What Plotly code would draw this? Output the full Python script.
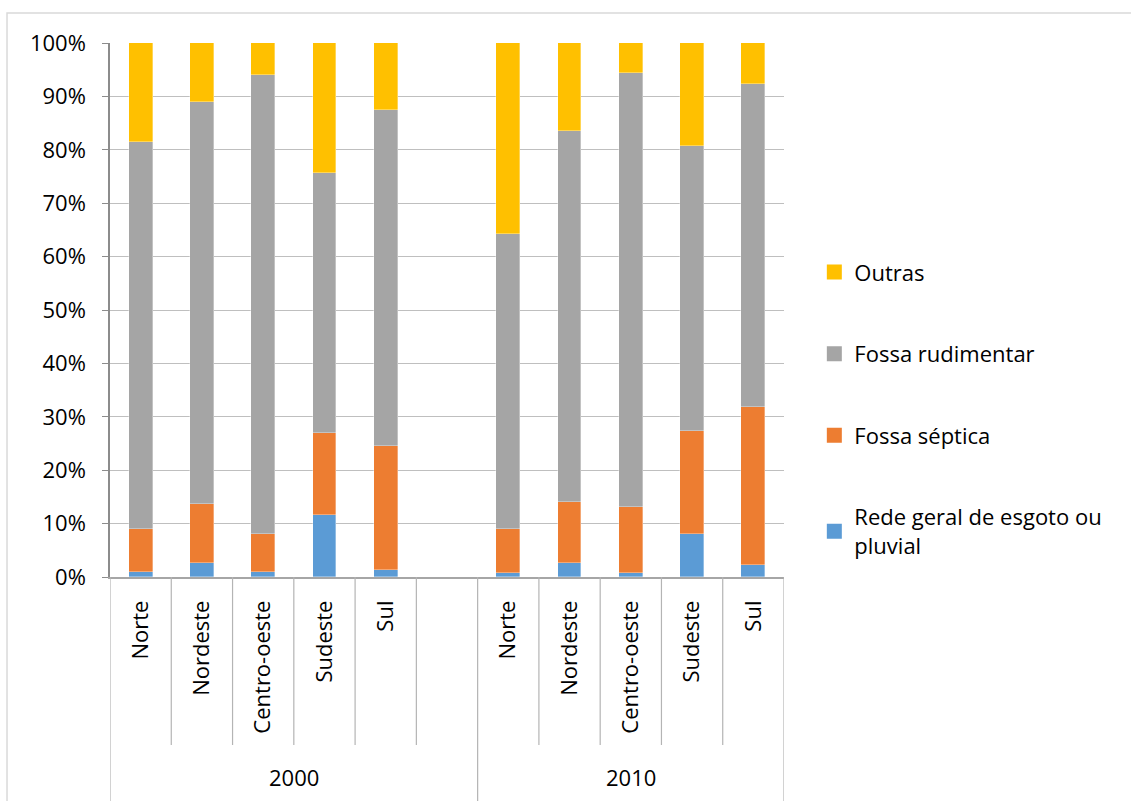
import plotly.graph_objects as go

# Regions and census years (share of households by sewage destination)
regions = ["Norte", "Nordeste", "Centro-oeste", "Sudeste", "Sul"]
years = ["2000", "2010"]

# Percent share per region, 2000
rede_2000 = [1.0, 2.6, 1.0, 11.7, 1.4]
septica_2000 = [7.9, 11.0, 7.1, 15.2, 23.1]
rudimentar_2000 = [72.6, 75.4, 86.0, 48.8, 62.9]
outras_2000 = [18.5, 11.0, 5.9, 24.3, 12.6]

# Percent share per region, 2010
rede_2010 = [0.7, 2.6, 0.7, 8.1, 2.3]
septica_2010 = [8.3, 11.5, 12.5, 19.3, 29.6]
rudimentar_2010 = [55.3, 69.5, 81.1, 53.4, 60.4]
outras_2010 = [35.7, 16.4, 5.7, 19.2, 7.7]

series_names = ["Rede geral de esgoto ou<br>pluvial", "Fossa séptica",
                "Fossa rudimentar", "Outras"]
series_colors = ["#5B9BD5", "#ED7D31", "#A5A5A5", "#FFC000"]

# slot layout: five regions, an empty slot, five regions
slots_2000 = list(range(0, 5))
slots_2010 = list(range(6, 11))
xpos = slots_2000 + slots_2010
tick_text = regions + regions

series_values = [
    rede_2000 + rede_2010,
    septica_2000 + septica_2010,
    rudimentar_2000 + rudimentar_2010,
    outras_2000 + outras_2010,
]

FONT = "Open Sans"
TXT = "#000000"

fig = go.Figure()
# stacked columns, bottom to top
for i, (name, color, vals) in enumerate(zip(series_names, series_colors, series_values)):
    fig.add_trace(go.Bar(
        x=xpos,
        y=[v / 100 for v in vals],
        name=name,
        legendgroup=f"g{i}",
        showlegend=False,
        marker=dict(color=color, line=dict(color="rgba(255,255,255,0.55)", width=0.6)),
        width=0.39,
    ))

# legend keys with larger square swatches, top entry = top segment
for i in reversed(range(len(series_names))):
    fig.add_trace(go.Scatter(
        x=[None], y=[None],
        mode="markers",
        name=series_names[i],
        legendgroup=f"g{i}",
        marker=dict(symbol="square", size=15, color=series_colors[i]),
        hoverinfo="skip",
    ))

shapes = []
# chart frame
shapes.append(dict(type="rect", xref="paper", yref="paper",
                   x0=-0.1528, x1=1.53, y0=1.0562, y1=-0.44,
                   line=dict(color="#D9D9D9", width=1.5), fillcolor="rgba(0,0,0,0)",
                   layer="below"))
# category dividers under the axis
short_div = [0.5, 1.5, 2.5, 3.5, 4.5, 6.5, 7.5, 8.5, 9.5]
long_div = [-0.5, 5.5, 10.5]
for xv in short_div:
    shapes.append(dict(type="line", xref="x", yref="paper", x0=xv, x1=xv,
                       y0=0, y1=-0.3146, line=dict(color="#B4B4B4", width=1.2)))
for xv in long_div:
    shapes.append(dict(type="line", xref="x", yref="paper", x0=xv, x1=xv,
                       y0=0, y1=-0.44, line=dict(color="#B4B4B4", width=1.2)))

annotations = []
for label, center in zip(years, [2.5, 8.0]):
    annotations.append(dict(x=center, y=-0.3745, xref="x", yref="paper",
                            text=label, showarrow=False,
                            font=dict(family=FONT, size=22, color=TXT),
                            xanchor="center", yanchor="middle"))

fig.update_layout(
    width=1131, height=801,
    margin=dict(l=110, r=347, t=43, b=224),
    paper_bgcolor="white", plot_bgcolor="white",
    barmode="stack",
    bargap=0,
    font=dict(family=FONT, size=22, color=TXT),
    shapes=shapes,
    annotations=annotations,
    showlegend=True,
    legend=dict(
        x=1.045, y=0.61, xanchor="left", yanchor="top",
        traceorder="grouped",
        tracegroupgap=50,
        font=dict(family=FONT, size=22, color=TXT),
        bgcolor="rgba(0,0,0,0)",
    ),
    xaxis=dict(
        range=[-0.5, 10.5],
        tickmode="array", tickvals=xpos, ticktext=tick_text,
        tickangle=-90,
        ticks="",
        showgrid=False, zeroline=False,
        showline=True, linecolor="#A6A6A6", linewidth=1.5,
        tickfont=dict(family=FONT, size=22, color=TXT),
        ticklabelstandoff=13,
        fixedrange=True,
    ),
    yaxis=dict(
        range=[0, 1],
        tickmode="linear", tick0=0, dtick=0.1,
        tickformat=".0%",
        ticks="outside", ticklen=6, tickcolor="#8C8C8C", tickwidth=1.2,
        showgrid=True, gridcolor="#BFBFBF", gridwidth=1.3,
        zeroline=False,
        showline=True, linecolor="#8C8C8C", linewidth=1.5,
        tickfont=dict(family=FONT, size=22, color=TXT),
        ticklabelstandoff=12,
        fixedrange=True,
    ),
)

fig.write_html("out.html")
